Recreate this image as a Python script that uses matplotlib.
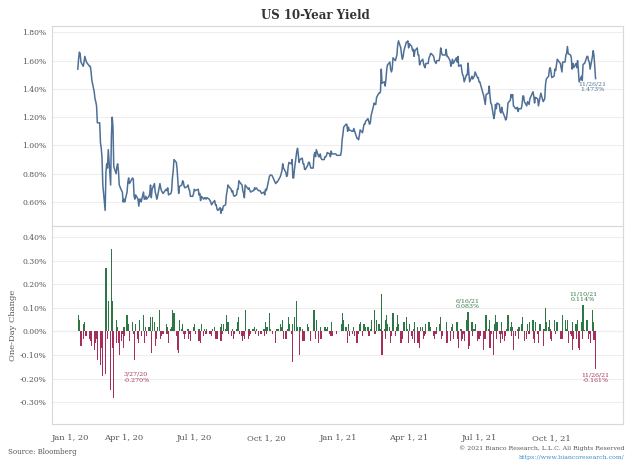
import numpy as np
import pandas as pd
import matplotlib
matplotlib.use("Agg")
import matplotlib.pyplot as plt

# US 10-year yield (%), daily closes, one list per month
y_2020_02 = [1.54, 1.61, 1.66, 1.65, 1.59, 1.56, 1.59, 1.63, 1.61, 1.59,
             1.56, 1.56, 1.52, 1.46, 1.38, 1.33, 1.31, 1.28, 1.16]
y_2020_03 = [1.16, 1.02, 0.98, 0.91, 0.72, 0.54, 0.81, 0.87, 0.84, 0.97,
             0.72, 1.07, 1.20, 1.13, 0.85, 0.80, 0.85, 0.87, 0.82, 0.72,
             0.68, 0.67]
y_2020_04 = [0.60, 0.62, 0.60, 0.67, 0.74, 0.77, 0.73, 0.77, 0.76, 0.64,
             0.62, 0.65, 0.62, 0.57, 0.62, 0.62, 0.60, 0.67, 0.62, 0.62, 0.64]
y_2020_05 = [0.62, 0.64, 0.66, 0.72, 0.63, 0.69, 0.73, 0.67, 0.65, 0.62,
             0.64, 0.73, 0.70, 0.68, 0.67, 0.66, 0.69, 0.68, 0.70, 0.65]
y_2020_06 = [0.66, 0.68, 0.77, 0.82, 0.90, 0.88, 0.83, 0.75, 0.66, 0.71,
             0.72, 0.75, 0.74, 0.71, 0.70, 0.71, 0.72, 0.69, 0.68, 0.64,
             0.64, 0.66]
y_2020_07 = [0.69, 0.68, 0.69, 0.65, 0.66, 0.61, 0.64, 0.62, 0.63, 0.63,
             0.62, 0.63, 0.62, 0.61, 0.60, 0.58, 0.59, 0.61, 0.58, 0.58,
             0.55, 0.54]
y_2020_08 = [0.56, 0.52, 0.55, 0.54, 0.57, 0.58, 0.65, 0.68, 0.72, 0.71,
             0.69, 0.67, 0.68, 0.65, 0.64, 0.65, 0.69, 0.69, 0.75, 0.74, 0.72]
y_2020_09 = [0.68, 0.66, 0.63, 0.72, 0.69, 0.70, 0.68, 0.67, 0.68, 0.68,
             0.70, 0.69, 0.70, 0.68, 0.68, 0.68, 0.67, 0.66, 0.67, 0.65, 0.69]
y_2020_10 = [0.68, 0.70, 0.78, 0.79, 0.79, 0.79, 0.78, 0.73, 0.74, 0.74,
             0.75, 0.78, 0.80, 0.82, 0.87, 0.84, 0.81, 0.78, 0.79, 0.85, 0.88]
y_2020_11 = [0.87, 0.90, 0.77, 0.77, 0.83, 0.96, 0.98, 0.88, 0.90, 0.91,
             0.87, 0.87, 0.83, 0.83, 0.86, 0.88, 0.88, 0.84, 0.84]
y_2020_12 = [0.93, 0.95, 0.92, 0.97, 0.92, 0.92, 0.94, 0.91, 0.90, 0.90,
             0.92, 0.92, 0.93, 0.95, 0.94, 0.92, 0.96, 0.94, 0.94, 0.94,
             0.93, 0.93]
y_2021_01 = [0.93, 0.96, 1.04, 1.08, 1.13, 1.15, 1.15, 1.10, 1.13, 1.11,
             1.10, 1.10, 1.12, 1.10, 1.05, 1.05, 1.04, 1.07, 1.11]
y_2021_02 = [1.09, 1.12, 1.15, 1.15, 1.17, 1.19, 1.17, 1.15, 1.16, 1.21,
             1.30, 1.29, 1.29, 1.34, 1.37, 1.37, 1.38, 1.54, 1.44]
y_2021_03 = [1.45, 1.42, 1.47, 1.54, 1.57, 1.59, 1.54, 1.52, 1.54, 1.62,
             1.60, 1.62, 1.64, 1.71, 1.74, 1.69, 1.64, 1.61, 1.63, 1.67,
             1.73, 1.73, 1.74]
y_2021_04 = [1.69, 1.72, 1.70, 1.67, 1.68, 1.63, 1.67, 1.69, 1.64, 1.64,
             1.57, 1.59, 1.61, 1.58, 1.56, 1.55, 1.58, 1.58, 1.62, 1.63,
             1.65, 1.65]
y_2021_05 = [1.63, 1.60, 1.59, 1.58, 1.60, 1.60, 1.63, 1.69, 1.66, 1.64,
             1.64, 1.64, 1.68, 1.63, 1.63, 1.60, 1.56, 1.58, 1.61, 1.58]
y_2021_06 = [1.62, 1.59, 1.63, 1.56, 1.57, 1.53, 1.50, 1.49, 1.45, 1.50,
             1.50, 1.583, 1.51, 1.45, 1.49, 1.47, 1.48, 1.49, 1.52, 1.48,
             1.48, 1.45]
y_2021_07 = [1.45, 1.43, 1.35, 1.32, 1.29, 1.36, 1.37, 1.42, 1.35, 1.30,
             1.29, 1.19, 1.22, 1.29, 1.26, 1.30, 1.29, 1.24, 1.23, 1.27, 1.24]
y_2021_08 = [1.20, 1.18, 1.19, 1.23, 1.30, 1.32, 1.36, 1.34, 1.36, 1.28,
             1.26, 1.26, 1.27, 1.24, 1.26, 1.26, 1.29, 1.35, 1.35, 1.31,
             1.28, 1.31]
y_2021_09 = [1.30, 1.29, 1.33, 1.38, 1.35, 1.30, 1.34, 1.33, 1.28, 1.31,
             1.34, 1.37, 1.31, 1.32, 1.33, 1.43, 1.47, 1.49, 1.54, 1.55, 1.52]
y_2021_10 = [1.48, 1.49, 1.54, 1.53, 1.57, 1.61, 1.58, 1.55, 1.52, 1.59,
             1.59, 1.64, 1.65, 1.70, 1.65, 1.64, 1.62, 1.54, 1.58, 1.55]
y_2021_11 = [1.58, 1.55, 1.60, 1.53, 1.45, 1.49, 1.46, 1.574, 1.58, 1.63,
             1.63, 1.60, 1.59, 1.54, 1.63, 1.67, 1.634, 1.473]

months = ["2020-02", "2020-03", "2020-04", "2020-05", "2020-06", "2020-07",
          "2020-08", "2020-09", "2020-10", "2020-11", "2020-12", "2021-01",
          "2021-02", "2021-03", "2021-04", "2021-05", "2021-06", "2021-07",
          "2021-08", "2021-09", "2021-10", "2021-11"]
month_vals = [y_2020_02, y_2020_03, y_2020_04, y_2020_05, y_2020_06, y_2020_07,
              y_2020_08, y_2020_09, y_2020_10, y_2020_11, y_2020_12, y_2021_01,
              y_2021_02, y_2021_03, y_2021_04, y_2021_05, y_2021_06, y_2021_07,
              y_2021_08, y_2021_09, y_2021_10, y_2021_11]

holidays = pd.to_datetime([
    "2020-02-17", "2020-04-10", "2020-05-25", "2020-07-03", "2020-09-07",
    "2020-10-12", "2020-11-11", "2020-11-26", "2020-12-25", "2021-01-01",
    "2021-01-18", "2021-02-15", "2021-05-31", "2021-07-05", "2021-09-06",
    "2021-10-11", "2021-11-11", "2021-11-25"])

dates, ylds = [], []
for m, vals in zip(months, month_vals):
    p = pd.Period(m)
    d = pd.bdate_range(p.start_time, p.end_time.normalize())
    d = d[~d.isin(holidays)]
    d = d[:len(vals)]
    if len(d) != len(vals):
        raise ValueError(f"{m}: {len(d)} dates vs {len(vals)} values")
    dates.extend(d)
    ylds.extend(vals)
dates = pd.DatetimeIndex(dates)
ylds = np.array(ylds)
chg = np.diff(ylds)
chg_dates = dates[1:]

tick_dates = pd.to_datetime(["2020-01-01", "2020-04-01", "2020-07-01", "2020-10-01",
                             "2021-01-01", "2021-04-01", "2021-07-01", "2021-10-01"])
tick_labels = ["Jan 1, 20", "Apr 1, 20", "Jul 1, 20", "Oct 1, 20",
               "Jan 1, 21", "Apr 1, 21", "Jul 1, 21", "Oct 1, 21"]

line_c = "#4f7096"
green = "#2f7645"
red = "#a52f5a"
grid_c = "#eeeeee"
edge_c = "#d8d8d8"
txt_c = "#555555"
serif = "DejaVu Serif"

fig = plt.figure(figsize=(6.3, 4.72), dpi=100)
ax1 = fig.add_axes([0.0825, 0.5212, 0.9063, 0.4237])
ax2 = fig.add_axes([0.0825, 0.1017, 0.9063, 0.4195], sharex=ax1)

ax1.plot(dates, ylds, color=line_c, lw=1.1)
ax1.set_ylim(0.43, 1.845)
ax1.set_yticks([0.6, 0.8, 1.0, 1.2, 1.4, 1.6, 1.8])
ax1.set_yticklabels([f"{v:.2f}%" for v in [0.6, 0.8, 1.0, 1.2, 1.4, 1.6, 1.8]])

cols = [green if c >= 0 else red for c in chg]
ax2.bar(chg_dates, chg, width=1.5, color=cols, linewidth=0)
ax2.set_ylim(-0.392, 0.447)
yt2 = [-0.3, -0.2, -0.1, 0.0, 0.1, 0.2, 0.3, 0.4]
ax2.set_yticks(yt2)
ax2.set_yticklabels([f"{v:.2f}%" if abs(v) > 1e-9 else "0.00%" for v in yt2])
ax2.set_ylabel("One-Day Change", fontsize=6, family=serif, color=txt_c, labelpad=2)

for ax in (ax1, ax2):
    ax.grid(axis="y", color=grid_c, lw=0.8)
    ax.set_axisbelow(True)
    for s in ax.spines.values():
        s.set_color(edge_c)
        s.set_linewidth(0.8)
    ax.tick_params(length=0, labelsize=5.5, labelcolor=txt_c, pad=4)
    for t in ax.get_yticklabels():
        t.set_family(serif)
ax1.tick_params(labelbottom=False)
ax2.axhline(0, color="#dddddd", lw=0.8, zorder=0)

ax2.set_xlim(pd.Timestamp("2020-01-01"), pd.Timestamp("2021-12-31"))
ax2.set_xticks(tick_dates)
ax2.set_xticklabels(tick_labels)
for i, t in enumerate(ax2.get_xticklabels()):
    t.set_family(serif)
    t.set_fontsize(6)
    if i == 0:
        t.set_ha("left")
ax2.tick_params(axis="x", pad=7)

ann = dict(fontsize=4.5, family=serif, textcoords="offset points", ha="center")
ax1.annotate("11/26/21\n1.473%", xy=(dates[-1], ylds[-1]), xytext=(-2, -2),
             va="top", color=line_c, **ann)
i_jun = chg_dates.get_loc(pd.Timestamp("2021-06-16"))
ax2.annotate("6/16/21\n0.083%", xy=(chg_dates[i_jun], chg[i_jun]), xytext=(0, 2),
             va="bottom", color=green, **ann)
i_nov = chg_dates.get_loc(pd.Timestamp("2021-11-10"))
ax2.annotate("11/10/21\n0.114%", xy=(chg_dates[i_nov], chg[i_nov]), xytext=(0, 2),
             va="bottom", color=green, **ann)
ax2.annotate("11/26/21\n-0.161%", xy=(chg_dates[-1], chg[-1]), xytext=(0, -2),
             va="top", color=red, **ann)
ax2.annotate("3/27/20\n-0.270%", xy=(pd.Timestamp("2020-03-27"), -0.27), xytext=(3, 13),
             va="center", color=red, fontsize=4.5, family=serif,
             textcoords="offset points", ha="left")

fig.text(0.5, 0.967, "US 10-Year Yield", ha="center", va="center",
         fontsize=8.5, fontweight="bold", family=serif, color="#333333")
fig.text(0.013, 0.042, "Source: Bloomberg", fontsize=5, family=serif,
         color=txt_c, va="center")
fig.text(0.992, 0.051, "\u00a9 2021 Bianco Research, L.L.C. All Rights Reserved",
         fontsize=4.5, family=serif, color=txt_c, ha="right", va="center")
fig.text(0.992, 0.030, "https://www.biancoresearch.com/", fontsize=4.5,
         family=serif, color="#3b8fc4", ha="right", va="center")

fig.savefig("out.png", dpi=100)
